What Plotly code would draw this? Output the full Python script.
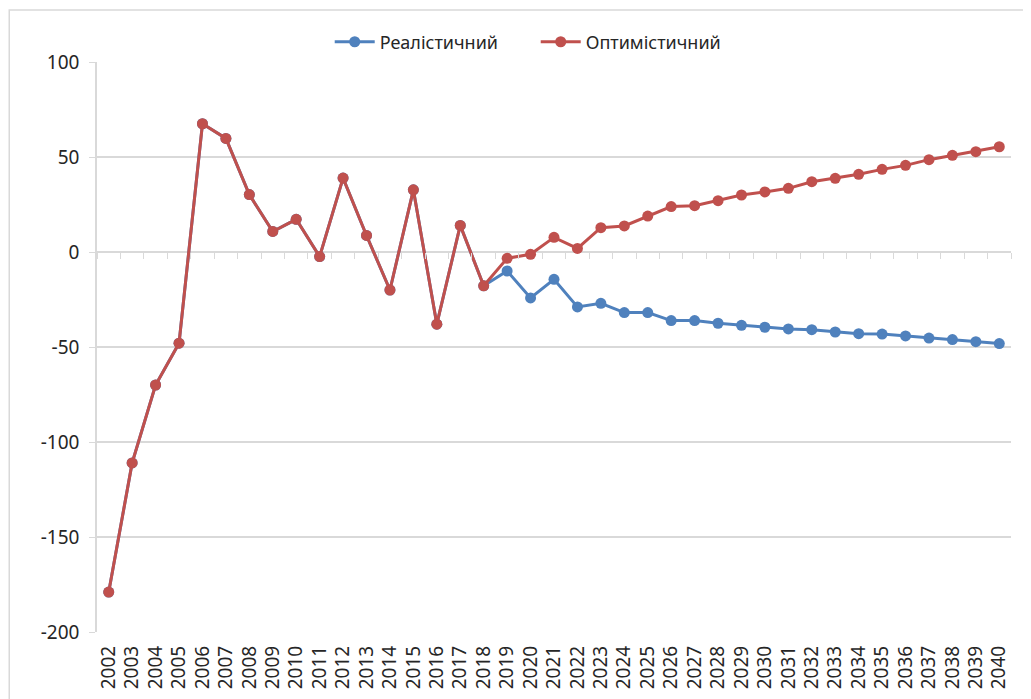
import plotly.graph_objects as go

years = list(range(2002, 2041))
year_labels = [str(y) for y in years]

historical = [-179, -111, -70, -48, 67.5, 59.8, 30.2, 10.8, 17.2, -2.4, 38.9, 8.7,
              -20, 32.7, -38, 14, -17.8]

realistic = historical + [-10, -24.2, -14.4, -28.9, -27, -31.9, -31.9, -36.1, -36.1,
                          -37.5, -38.6, -39.6, -40.5, -40.9, -42.1, -43, -43.2,
                          -44.2, -45.3, -46.1, -47.2, -48.2]
optimistic = historical + [-3.3, -1.2, 7.7, 1.9, 12.8, 13.7, 18.9, 23.9, 24.4,
                           27, 30, 31.6, 33.5, 37, 38.8, 40.9, 43.5, 45.6,
                           48.6, 50.9, 52.8, 55.4]

y_ticks = [-200, -150, -100, -50, 0, 50, 100]
y_tick_labels = ["-200", "-150", "-100", "-50", "0", "50", "100"]

BLUE = "#4F81BD"
RED = "#C0504D"
GRID = "#D9D9D9"
TEXT = "#262626"
FONT = "Noto Sans"

fig = go.Figure()
fig.add_trace(go.Scatter(x=years, y=realistic, name="Реалістичний", mode="lines+markers",
                         line=dict(color=BLUE, width=3), marker=dict(size=11, color=BLUE)))
fig.add_trace(go.Scatter(x=years, y=optimistic, name="Оптимістичний", mode="lines+markers",
                         line=dict(color=RED, width=3), marker=dict(size=11, color=RED)))

# invisible trace on overlaying axis for the category tick marks along zero
fig.add_trace(go.Scatter(x=years, y=[None] * len(years), xaxis="x2", showlegend=False,
                         hoverinfo="skip"))

fig.update_layout(
    width=1031, height=699,
    margin=dict(l=89, r=28, t=54, b=75),
    paper_bgcolor="white", plot_bgcolor="white",
    font=dict(family=FONT, color=TEXT),
    showlegend=True,
    legend=dict(orientation="h", x=0.48, y=1.035, xanchor="center", yanchor="middle",
                font=dict(size=18, family=FONT, color=TEXT),
                itemwidth=40, entrywidth=151, entrywidthmode="pixels",
                bgcolor="rgba(0,0,0,0)"),
    xaxis=dict(range=[2001.5, 2040.5], tickvals=years, ticktext=year_labels,
               tickangle=-90, tickfont=dict(size=19, family=FONT, color=TEXT),
               showgrid=False, zeroline=False, showline=False, ticks="",
               ticklabelstandoff=9),
    xaxis2=dict(overlaying="x", anchor="free", position=2/3, range=[2001.5, 2040.5],
                tick0=2001.5, dtick=1, ticks="outside", ticklen=6, tickcolor=GRID,
                showticklabels=False, showgrid=False, zeroline=False,
                showline=False, side="bottom"),
    yaxis=dict(range=[-200, 100], tickvals=y_ticks, ticktext=y_tick_labels,
               showgrid=True, gridcolor=GRID,
               gridwidth=1.5, zeroline=True, zerolinecolor=GRID, zerolinewidth=1.5,
               showline=True, linecolor=GRID, linewidth=1.5,
               ticks="outside", ticklen=6, tickcolor=GRID,
               tickfont=dict(size=19, family=FONT, color=TEXT),
               ticklabelstandoff=6),
    shapes=[dict(type="rect", xref="paper", yref="paper", x0=-0.096, x1=1.2,
                 y0=-0.3, y1=1.0912, line=dict(color=GRID, width=1.5), layer="below")],
)

fig.write_html("out.html")
